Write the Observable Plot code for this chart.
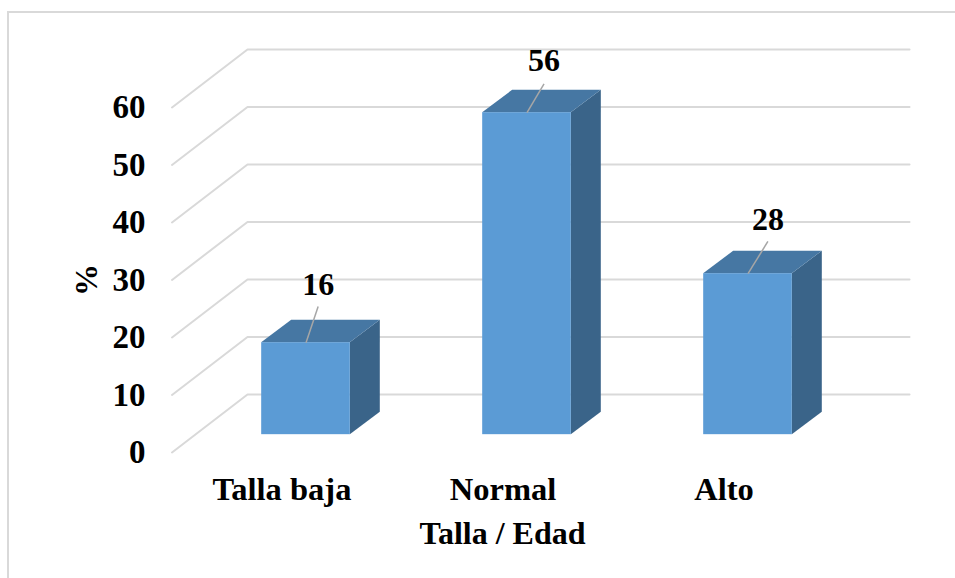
<!DOCTYPE html>
<html><head><meta charset="utf-8">
<script src="https://cdn.jsdelivr.net/npm/d3@7"></script>
<script src="https://cdn.jsdelivr.net/npm/@observablehq/plot@0.6"></script>
<style>
html,body{margin:0;padding:0;background:#fff;overflow:hidden}
#wrap{position:relative;width:955px;height:578px;overflow:hidden}
#border{position:absolute;left:7px;top:11px;width:1000px;height:700px;border:2px solid #d9d9d9}
#chart{position:absolute;left:0;top:0}
</style></head><body>
<div id="wrap"><div id="border"></div><div id="chart"></div></div>
<script>
// Data
const categories = ["Talla baja", "Normal", "Alto"];
const values = [16, 56, 28];
const yTicks = [0, 10, 20, 30, 40, 50, 60];
const xTitle = "Talla / Edad";
const yTitle = "%";

// 3D geometry, in scale units (x: category index, y: percent)
const halfW = 0.2005, depthX = 0.1357, depthY = 3.9, floorY = 3.1;
const wallX = -0.2647, frontX = -0.6063, rightX = 2.731, wallY = 10.1;
const leaderDX = [0.055, 0.077, 0.09], leaderY = [6.3, 5, 5.6];
const labelGap = [3.8, 4, 3.7];

const idx = categories.map((c, i) => i);
const grid = yTicks.flatMap(v => [
  {v, x: frontX, y: v},
  {v, x: wallX, y: v + wallY},
  {v, x: rightX, y: v + wallY}
]);
const front = idx.map(i => ({x1: i - halfW, x2: i + halfW, y1: floorY, y2: values[i] + floorY}));
const side = idx.flatMap(i => [
  {i, x: i + halfW, lo: floorY, hi: values[i] + floorY},
  {i, x: i + halfW + depthX, lo: floorY + depthY, hi: values[i] + floorY + depthY}
]);
const top_ = idx.flatMap(i => {
  const t = values[i] + floorY;
  return [
    {i, x: i - halfW, lo: t, hi: t},
    {i, x: i - halfW + depthX, lo: t, hi: t + depthY},
    {i, x: i + halfW, lo: t, hi: t + depthY},
    {i, x: i + halfW + depthX, lo: t + depthY, hi: t + depthY}
  ];
});
const leaders = idx.map(i => ({
  x1: i, y1: values[i] + floorY,
  x2: i + leaderDX[i], y2: values[i] + floorY + leaderY[i]
}));
const labels = idx.map(i => ({x: i + leaderDX[i], y: values[i] + floorY + leaderY[i] + labelGap[i], t: String(values[i])}));

const fontSize = 32;
const chart = Plot.plot({
  width: 955, height: 578,
  marginLeft: 150, marginRight: 45, marginTop: 107, marginBottom: 126,
  style: {fontFamily: "'Liberation Serif', serif", fontWeight: "bold", color: "#000", background: "transparent", overflow: "visible"},
  x: {type: "linear", domain: [(150 - 305.5) / 221, (910 - 305.5) / 221], axis: null},
  y: {domain: [0, 60], axis: null},
  marks: [
    Plot.line(grid, {x: "x", y: "y", z: "v", stroke: "#d9d9d9", strokeWidth: 2, curve: "linear"}),
    Plot.axisY({ticks: yTicks, tickSize: 0, tickPadding: 5, fontSize: 33, label: null, dy: 0, fill: "#000"}),
    Plot.axisX({ticks: idx, tickFormat: i => categories[i], tickSize: 0, tickPadding: 24, fontSize: 32.5, label: null, dx: -24, fill: "#000"}),
    Plot.area(side, {x1: "x", y1: "lo", y2: "hi", z: "i", fill: "#3a6489", curve: "linear"}),
    Plot.area(top_, {x1: "x", y1: "lo", y2: "hi", z: "i", fill: "#4677a3", curve: "linear"}),
    Plot.rect(front, {x1: "x1", x2: "x2", y1: "y1", y2: "y2", fill: "#5b9bd5"}),
    Plot.link(leaders, {x1: "x1", y1: "y1", x2: "x2", y2: "y2", stroke: "#a6a6a6", strokeWidth: 1.5}),
    Plot.text(labels, {x: "x", y: "y", text: "t", fontSize, fill: "#000"}),
    Plot.text([xTitle], {x: (502 - 305.5) / 221, y: -14.2, text: d => d, fontSize, fill: "#000"}),
    Plot.text([yTitle], {x: (86 - 305.5) / 221, y: 30, text: d => d, rotate: -90, fontSize, fill: "#000"})
  ]
});
document.getElementById("chart").appendChild(chart);
</script>
</body></html>
